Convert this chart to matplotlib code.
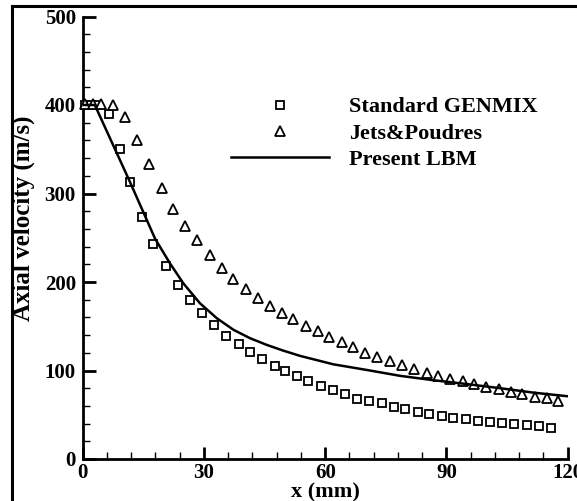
import matplotlib
matplotlib.use("Agg")
import matplotlib.pyplot as plt
from matplotlib.lines import Line2D
from matplotlib.ticker import MultipleLocator

# ---- data ----
genmix_x = [0.5, 2.0, 3.6, 6.6, 9.2, 11.7, 14.6, 17.5, 20.5, 23.6, 26.6, 29.6, 32.5, 35.5,
            38.6, 41.5, 44.4, 47.6, 50.1, 53.0, 55.8, 58.9, 62.0, 64.9, 67.8, 70.9, 74.0,
            76.9, 79.8, 82.9, 85.8, 88.8, 91.7, 94.8, 97.8, 100.8, 103.7, 106.8, 109.9,
            112.9, 115.8]
genmix_y = [400, 400, 400, 390, 350, 313, 274, 243, 218, 197, 180, 165, 151, 139,
            130, 121, 113, 105, 99, 94, 88, 83, 78, 73.5, 68, 66, 63,
            59, 56, 53, 51, 48.6, 46.7, 44.8, 43, 42, 41, 39.5, 38.4,
            37.3, 35.4]

jets_x = [0.5, 2.5, 4.5, 7.4, 10.4, 13.4, 16.4, 19.6, 22.3, 25.3, 28.2, 31.4, 34.5, 37.3,
          40.3, 43.3, 46.4, 49.3, 52.1, 55.2, 58.1, 61.0, 64.1, 67.0, 69.9, 72.9, 76.0,
          79.0, 82.0, 85.1, 87.9, 90.9, 94.0, 96.9, 99.8, 102.9, 105.9, 108.8, 111.8,
          114.8, 117.7]
jets_y = [401, 401, 401, 400, 386, 360, 333, 306.6, 283, 263, 247, 230, 216, 203,
          192, 182, 173, 165, 158, 150, 144.6, 137.5, 132.6, 127, 120, 115.6, 111,
          106, 101.7, 97.5, 94, 90.4, 88, 84.4, 81.7, 78.8, 76, 73, 70.4,
          68.6, 65.5]

lbm_x = [0, 3, 11.7, 17.9, 21.6, 24.9, 29, 33.2, 37.3, 41.4, 45.5, 49.6, 53.8, 62, 70.3,
         78.5, 86.8, 95, 103.3, 111.5, 119.8]
lbm_y = [400, 400, 313, 249, 221, 198.5, 176, 159, 146, 136.5, 129, 122.5, 116.5, 107,
         100.6, 94, 89, 84.7, 80, 75, 71]

labels = ["Standard GENMIX", "Jets&Poudres", "Present LBM"]
x_label = "x (mm)"
y_label = "Axial velocity (m/s)"

plt.rcParams['font.family'] = ['Liberation Serif', 'DejaVu Serif']
plt.rcParams['font.weight'] = 'bold'

W, H = 577, 501
fig = plt.figure(figsize=(W / 100, H / 100), dpi=100)
fig.patch.set_facecolor('white')

left, right, bottom, top = 82.7 / W, 567.7 / W, (H - 459) / H, (H - 16.5) / H
ax = fig.add_axes([left, bottom, right - left, top - bottom])
ax_h = 459 - 16.5
ax_w = 567.7 - 82.7

ax.plot(genmix_x, genmix_y, linestyle='none', marker='s', markersize=5.5,
        markerfacecolor='white', markeredgecolor='black', markeredgewidth=1.3,
        label=labels[0], clip_on=False, zorder=3)
ax.plot(jets_x, jets_y, linestyle='none', marker='^', markersize=6.5,
        markerfacecolor='white', markeredgecolor='black', markeredgewidth=1.3,
        label=labels[1], clip_on=False, zorder=3)
ax.plot(lbm_x, lbm_y, color='black', linewidth=1.8, label=labels[2], zorder=4)

ax.set_xlim(0, 120)
ax.set_ylim(0, 500)
ax.xaxis.set_major_locator(MultipleLocator(30))
ax.xaxis.set_minor_locator(MultipleLocator(6))
ax.yaxis.set_major_locator(MultipleLocator(100))
ax.yaxis.set_minor_locator(MultipleLocator(20))

for s in ['top', 'right']:
    ax.spines[s].set_visible(False)
for s in ['left', 'bottom']:
    ax.spines[s].set_linewidth(2.0)

ax.tick_params(which='major', direction='in', length=9, width=2.0, labelsize=15, pad=5)
ax.tick_params(which='minor', direction='in', length=5, width=1.0)
ax.tick_params(axis='x', which='major', pad=3)

ax.set_xlabel(x_label, fontsize=16, fontweight='bold')
ax.xaxis.set_label_coords(0.5, -(482 - 459) / ax_h)
ax.set_ylabel(y_label, fontsize=18, fontweight='bold')
ax.yaxis.set_label_coords(-(82.7 - 35) / ax_w, (459 - 218) / ax_h)

leg = fig.legend(loc='upper left', bbox_to_anchor=(222 / W, (H - 88) / H),
                 frameon=False, fontsize=16, handlelength=4.4, handletextpad=0.9,
                 labelspacing=0.25, borderaxespad=0)
for t in leg.get_texts():
    t.set_fontweight('bold')

# figure frame (left and top edges visible)
fig.add_artist(Line2D([12 / W, 12 / W], [0, (H - 6) / H], color='black', linewidth=2.2,
                      transform=fig.transFigure))
fig.add_artist(Line2D([12 / W, 1], [(H - 6) / H, (H - 6) / H], color='black', linewidth=2.2,
                      transform=fig.transFigure))

fig.savefig('out.png', dpi=100, facecolor='white')
